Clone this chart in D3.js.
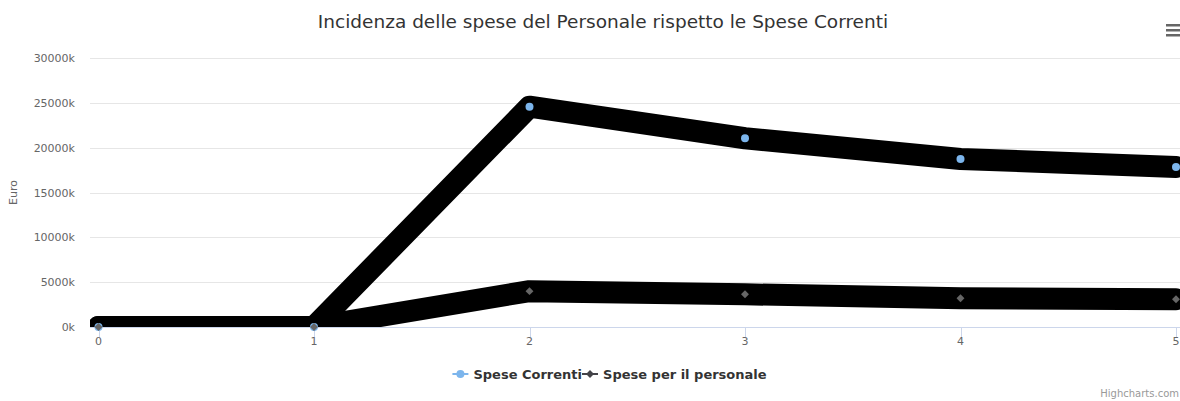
<!DOCTYPE html>
<html>
<head>
<meta charset="utf-8">
<script src="https://cdn.jsdelivr.net/npm/d3@7"></script>
<style>
  body { margin: 0; background: #fff; }
  text { font-family: "DejaVu Sans", sans-serif; }
</style>
</head>
<body>
<svg id="chart" width="1180" height="401"></svg>
<script>
// Data
const categories = [0, 1, 2, 3, 4, 5]
const speseCorrenti = [0, 0, 24570000, 21050000, 18740000, 17850000]
const spesePersonale = [0, 0, 4000000, 3650000, 3200000, 3100000]
const yTicks = [0, 5000000, 10000000, 15000000, 20000000, 25000000, 30000000]
const seriesNames = ["Spese Correnti", "Spese per il personale"]

//Params
const params = {
    "plotLeft": 90,
    "plotTop": 58,
    "plotBottom": 327,
    "plotRight": 1200,
    "bandWidth": 22
}
const colors = ["#7cb5ec", "#434348"]

const svg = d3.select("#chart")

const x = d3.scaleLinear().domain([0, 5]).range([98.5, 1176])
const y = d3.scaleLinear().domain([0, 30000000]).range([params.plotBottom, params.plotTop])

// title
svg.append("text")
    .attr("x", 603).attr("y", 28)
    .attr("text-anchor", "middle")
    .style("font-size", "18.5px")
    .style("fill", "#333333")
    .text("Incidenza delle spese del Personale rispetto le Spese Correnti")

// menu icon
;[0, 5, 10].forEach(function(dy){
    svg.append("rect")
        .attr("x", 1166).attr("y", 24 + dy)
        .attr("width", 14).attr("height", 2.5)
        .attr("fill", "#666666")
})

// grid + y labels
svg.append("g").selectAll("line").data(yTicks.slice(1)).join("line")
    .attr("x1", params.plotLeft).attr("x2", 1180)
    .attr("y1", d => Math.round(y(d)) + 0.5).attr("y2", d => Math.round(y(d)) + 0.5)
    .attr("stroke", "#e6e6e6")

svg.append("g").selectAll("text").data(yTicks).join("text")
    .attr("x", 75).attr("y", d => y(d) + 4)
    .attr("text-anchor", "end")
    .style("font-size", "11px")
    .style("fill", "#666666")
    .text(d => (d / 1000) + "k")

svg.append("text")
    .attr("transform", "translate(17," + ((params.plotTop + params.plotBottom) / 2) + ") rotate(-90)")
    .attr("text-anchor", "middle")
    .style("font-size", "11px")
    .style("fill", "#666666")
    .text("Euro")

// x axis
svg.append("line")
    .attr("x1", params.plotLeft).attr("x2", 1180)
    .attr("y1", params.plotBottom + 0.5).attr("y2", params.plotBottom + 0.5)
    .attr("stroke", "#ccd6eb")

svg.append("g").selectAll("line").data(categories).join("line")
    .attr("x1", d => Math.round(x(d)) + 0.5).attr("x2", d => Math.round(x(d)) + 0.5)
    .attr("y1", params.plotBottom).attr("y2", params.plotBottom + 10)
    .attr("stroke", "#ccd6eb")

svg.append("g").selectAll("text").data(categories).join("text")
    .attr("x", d => x(d)).attr("y", 345)
    .attr("text-anchor", "middle")
    .style("font-size", "11px")
    .style("fill", "#666666")
    .text(d => d)

// plot clip
svg.append("clipPath").attr("id", "plotClip")
    .append("rect")
    .attr("x", params.plotLeft).attr("y", params.plotTop - 20)
    .attr("width", params.plotRight - params.plotLeft)
    .attr("height", params.plotBottom - params.plotTop + 20)

const line = d3.line()
    .x((d, i) => x(categories[i]))
    .y(d => y(d))

const plot = svg.append("g").attr("clip-path", "url(#plotClip)")

;[speseCorrenti, spesePersonale].forEach(function(values){
    plot.append("path")
        .datum(values)
        .attr("d", line)
        .attr("fill", "none")
        .attr("stroke", "#000000")
        .attr("stroke-width", params.bandWidth)
        .attr("stroke-linejoin", "round")
        .attr("stroke-linecap", "round")
})

// markers
svg.append("g").selectAll("circle").data(speseCorrenti).join("circle")
    .attr("cx", (d, i) => x(categories[i]))
    .attr("cy", d => y(d))
    .attr("r", 4)
    .attr("fill", colors[0])

const diamond = d3.symbol().type(d3.symbolDiamond2).size(40)
svg.append("g").selectAll("path").data(spesePersonale).join("path")
    .attr("transform", (d, i) => "translate(" + x(categories[i]) + "," + y(d) + ")")
    .attr("d", diamond)
    .attr("fill", "#666666")

// legend - items packed one after the other, then centred
const legend = svg.append("g")
let lx = 0
seriesNames.forEach(function(name, i){
    const g = legend.append("g").attr("transform", "translate(" + lx + ",0)")
    g.append("line").attr("x1", 0).attr("x2", 16).attr("y1", 0).attr("y2", 0)
        .attr("stroke", colors[i]).attr("stroke-width", 2)
    if(i === 0){
        g.append("circle").attr("cx", 8).attr("cy", 0).attr("r", 4).attr("fill", colors[i])
    } else {
        g.append("path").attr("transform", "translate(8,0)").attr("d", diamond).attr("fill", colors[i])
    }
    const t = g.append("text").attr("x", 21).attr("y", 5)
        .style("font-size", "13px").style("font-weight", "bold")
        .style("fill", "#333333")
        .text(name)
    lx += 21 + t.node().getComputedTextLength()
})
legend.attr("transform", "translate(" + (609.5 - lx / 2) + ",374)")

// credits
svg.append("text")
    .attr("x", 1179).attr("y", 397)
    .attr("text-anchor", "end")
    .style("font-size", "10px")
    .style("fill", "#999999")
    .text("Highcharts.com")
</script>
</body>
</html>
